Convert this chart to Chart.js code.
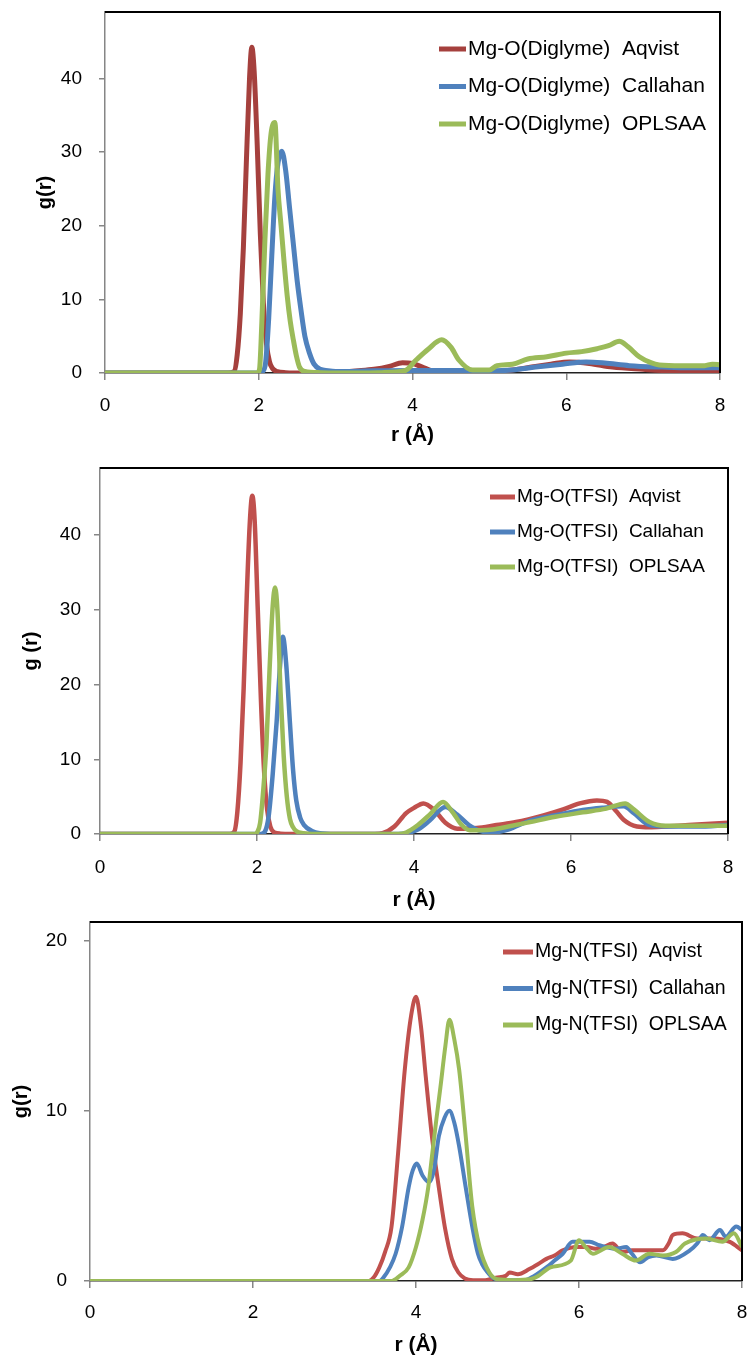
<!DOCTYPE html>
<html>
<head>
<meta charset="utf-8">
<title>g(r) Mg</title>
<script src="https://cdn.jsdelivr.net/npm/chart.js@4.4.1/dist/chart.umd.min.js"></script>
<style>
  body { margin: 0; background: #fff; }
  .painel { position: absolute; left: 0; width: 749px; }
</style>
</head>
<body>
<div class="painel" style="top:0;height:455px"><canvas id="graficoDiglyme"></canvas></div>
<div class="painel" style="top:455px;height:460px"><canvas id="graficoTfsiO"></canvas></div>
<div class="painel" style="top:915px;height:443px"><canvas id="graficoTfsiN"></canvas></div>
<script>
// painel 1: Mg-O(Diglyme)
const rDiglymeAqvist = [0, 1.6, 1.68, 1.72, 1.76, 1.8, 1.84, 1.88, 1.91, 1.94, 1.98, 2.02, 2.06, 2.1, 2.14, 2.18, 2.24, 2.35, 2.6, 3.0, 3.3, 3.5, 3.7, 3.87, 4.0, 4.15, 4.3, 4.6, 5.0, 5.3, 5.6, 5.8, 6.04, 6.3, 6.6, 7.0, 7.5, 8.0];
const gDiglymeAqvist = [0, 0, 0.2, 2.5, 8, 17, 29, 40, 44.2, 41, 31, 19, 9.5, 4, 1.5, 0.6, 0.2, 0.05, 0, 0.1, 0.3, 0.5, 0.9, 1.4, 1.3, 0.7, 0.15, 0.05, 0.1, 0.4, 0.9, 1.2, 1.5, 1.3, 0.8, 0.5, 0.2, 0.1];
const rDiglymeCallahan = [0, 2.0, 2.05, 2.09, 2.13, 2.17, 2.21, 2.25, 2.3, 2.35, 2.4, 2.45, 2.5, 2.55, 2.6, 2.66, 2.72, 2.8, 2.9, 3.0, 3.5, 4.0, 4.5, 5.0, 5.3, 5.6, 5.95, 6.26, 6.5, 6.82, 7.25, 7.6, 8.0];
const gDiglymeCallahan = [0, 0, 0.2, 1.5, 7.5, 16, 24, 28.5, 30.1, 27.5, 22.5, 17.5, 12.5, 8.5, 5, 2.7, 1.2, 0.5, 0.3, 0.2, 0.3, 0.35, 0.35, 0.3, 0.4, 0.8, 1.2, 1.5, 1.35, 1.0, 0.8, 0.7, 0.7];
const rDiglymeOplsaa = [0, 1.98, 2.01, 2.04, 2.08, 2.12, 2.16, 2.21, 2.25, 2.29, 2.33, 2.37, 2.41, 2.45, 2.49, 2.53, 2.6, 2.8, 3.2, 3.6, 3.9, 4.05, 4.2, 4.38, 4.5, 4.6, 4.78, 5.0, 5.1, 5.3, 5.5, 5.75, 6.0, 6.2, 6.4, 6.55, 6.69, 6.8, 6.95, 7.1, 7.21, 7.5, 7.8, 7.9, 8.0];
const gDiglymeOplsaa = [0, 0, 0.5, 6.8, 18, 27, 32.5, 34.0, 25, 20, 15, 10.5, 7, 4.5, 2.3, 0.8, 0.2, 0.05, 0, 0.05, 0.3, 1.8, 3.2, 4.5, 3.5, 1.8, 0.4, 0.4, 1.0, 1.2, 1.9, 2.2, 2.7, 2.9, 3.3, 3.7, 4.3, 3.6, 2.2, 1.4, 1.1, 1.0, 1.0, 1.2, 1.1];

// painel 2: Mg-O(TFSI)
const rTfsiOAqvist = [0, 1.65, 1.71, 1.75, 1.79, 1.83, 1.87, 1.91, 1.94, 1.97, 2.01, 2.05, 2.09, 2.13, 2.17, 2.22, 2.3, 2.6, 3.0, 3.5, 3.6, 3.75, 3.9, 4.0, 4.12, 4.25, 4.4, 4.55, 4.8, 5.05, 5.3, 5.65, 5.9, 6.11, 6.33, 6.46, 6.58, 6.67, 6.84, 7.0, 7.2, 7.5, 8.0];
const gTfsiOAqvist = [0, 0, 0.3, 3, 9.5, 19.5, 32, 42, 45.3, 42, 30, 18, 8.5, 3.2, 1, 0.2, 0.05, 0, 0, 0, 0.1, 1.0, 2.8, 3.5, 4.1, 3.3, 1.5, 0.7, 0.8, 1.2, 1.6, 2.5, 3.3, 4.1, 4.5, 4.3, 3.0, 1.9, 1.0, 0.9, 1.0, 1.2, 1.5];
const rTfsiOCallahan = [0, 2.05, 2.1, 2.15, 2.2, 2.25, 2.29, 2.33, 2.37, 2.42, 2.46, 2.5, 2.55, 2.6, 2.7, 2.8, 3.0, 3.8, 3.9, 4.05, 4.2, 4.4, 4.55, 4.7, 4.88, 5.0, 5.2, 5.48, 5.8, 6.15, 6.4, 6.67, 6.8, 7.0, 7.3, 7.6, 8.0];
const gTfsiOCallahan = [0, 0, 0.3, 2.5, 8, 15, 22, 26.4, 23, 14.8, 8.5, 4.5, 2.2, 1.2, 0.4, 0.1, 0, 0, 0.1, 0.6, 1.8, 3.6, 2.6, 1.2, 0.3, 0.2, 0.6, 1.8, 2.5, 3.2, 3.5, 3.7, 2.8, 1.2, 1.0, 1.0, 1.2];
const rTfsiOOplsaa = [0, 1.97, 2.0, 2.04, 2.08, 2.12, 2.16, 2.2, 2.23, 2.26, 2.3, 2.34, 2.38, 2.42, 2.46, 2.5, 2.59, 2.7, 3.0, 3.8, 3.9, 4.05, 4.2, 4.37, 4.5, 4.6, 4.71, 4.85, 5.0, 5.2, 5.48, 5.8, 6.15, 6.45, 6.69, 6.8, 7.0, 7.2, 7.5, 8.0];
const gTfsiOOplsaa = [0, 0, 0.2, 1.5, 5.9, 12, 22, 30.5, 33.0, 30, 19, 10.5, 5, 2, 0.9, 0.4, 0.1, 0, 0, 0, 0.2, 1.2, 2.6, 4.3, 2.8, 1.3, 0.5, 0.5, 0.6, 1.0, 1.6, 2.3, 2.9, 3.4, 4.1, 3.3, 1.6, 1.1, 1.1, 1.1];

// painel 3: Mg-N(TFSI)
const rTfsiNAqvist = [0, 3.42, 3.48, 3.55, 3.62, 3.7, 3.78, 3.86, 3.94, 4.0, 4.06, 4.12, 4.2, 4.28, 4.36, 4.44, 4.52, 4.6, 4.7, 4.85, 4.98, 5.1, 5.15, 5.25, 5.39, 5.5, 5.6, 5.7, 5.8, 5.97, 6.1, 6.2, 6.3, 6.41, 6.53, 6.65, 6.83, 7.03, 7.1, 7.15, 7.27, 7.45, 7.66, 7.85, 8.0];
const gTfsiNAqvist = [0, 0, 0.2, 0.8, 1.7, 3.2, 7.5, 12.3, 15.6, 16.7, 15.0, 12.0, 8.3, 5.5, 3.0, 1.3, 0.5, 0.15, 0.05, 0.05, 0.2, 0.3, 0.5, 0.4, 0.7, 1.0, 1.3, 1.5, 1.8, 2.0, 2.0, 1.9, 2.0, 2.2, 1.7, 1.8, 1.8, 1.8, 2.2, 2.7, 2.8, 2.5, 2.5, 2.3, 1.8];
const rTfsiNCallahan = [0, 3.55, 3.6, 3.68, 3.75, 3.83, 3.91, 3.96, 4.01, 4.08, 4.16, 4.22, 4.28, 4.35, 4.41, 4.47, 4.53, 4.61, 4.69, 4.76, 4.81, 4.88, 4.94, 5.05, 5.33, 5.45, 5.6, 5.7, 5.8, 5.92, 6.0, 6.13, 6.25, 6.33, 6.45, 6.58, 6.65, 6.75, 6.85, 6.95, 7.15, 7.36, 7.45, 7.52, 7.6, 7.73, 7.8, 7.93, 8.0];
const gTfsiNCallahan = [0, 0, 0.2, 0.8, 1.6, 3.2, 5.5, 6.5, 6.9, 6.2, 5.8, 6.5, 8.5, 9.6, 10.0, 9.3, 7.9, 5.5, 3.2, 1.6, 1.0, 0.5, 0.2, 0.05, 0.05, 0.3, 0.8, 1.2, 1.6, 2.3, 2.3, 2.3, 2.1, 2.0, 1.9, 2.0, 1.6, 1.1, 1.4, 1.5, 1.3, 1.8, 2.2, 2.7, 2.4, 3.0, 2.6, 3.2, 3.0];
const rTfsiNOplsaa = [0, 3.7, 3.8, 3.91, 4.0, 4.08, 4.15, 4.2, 4.25, 4.3, 4.36, 4.41, 4.47, 4.53, 4.61, 4.69, 4.78, 4.9, 5.0, 5.2, 5.4, 5.5, 5.65, 5.9, 6.0, 6.08, 6.17, 6.37, 6.53, 6.7, 6.86, 7.03, 7.19, 7.3, 7.56, 7.76, 7.9, 8.0];
const gTfsiNOplsaa = [0, 0, 0.3, 0.8, 2.0, 3.6, 5.5, 7.5, 9.5, 11.4, 13.8, 15.35, 14.2, 12.4, 8.5, 4.4, 2.0, 0.5, 0.1, 0.05, 0.1, 0.3, 0.8, 1.2, 2.4, 2.0, 1.6, 2.0, 1.6, 1.2, 1.6, 1.5, 1.7, 2.2, 2.5, 2.3, 2.8, 2.0];

const legendaDiglyme = ["Mg-O(Diglyme)  Aqvist", "Mg-O(Diglyme)  Callahan", "Mg-O(Diglyme)  OPLSAA"];
const legendaTfsiO = ["Mg-O(TFSI)  Aqvist", "Mg-O(TFSI)  Callahan", "Mg-O(TFSI)  OPLSAA"];
const legendaTfsiN = ["Mg-N(TFSI)  Aqvist", "Mg-N(TFSI)  Callahan", "Mg-N(TFSI)  OPLSAA"];

const ticksR = [0, 2, 4, 6, 8];

const FONTE = '"Liberation Sans", Arial, sans-serif';

// moldura preta em cima e a direita
const moldura = {
  id: "moldura",
  afterDatasetsDraw(chart) {
    const { ctx, chartArea } = chart;
    ctx.save();
    ctx.strokeStyle = "#000";
    ctx.lineWidth = 2;
    ctx.beginPath();
    ctx.moveTo(chartArea.left, chartArea.top);
    ctx.lineTo(chartArea.right, chartArea.top);
    ctx.lineTo(chartArea.right, chartArea.bottom);
    ctx.stroke();
    ctx.restore();
  }
};

// legenda dentro da area do grafico
const legendaInterna = {
  id: "legendaInterna",
  afterDraw(chart, args, opts) {
    const ctx = chart.ctx;
    ctx.save();
    ctx.font = `${opts.tamanho}px ${FONTE}`;
    ctx.textBaseline = "middle";
    ctx.fillStyle = "#000";
    chart.data.datasets.forEach((ds, i) => {
      const y = opts.y + i * opts.passo;
      ctx.strokeStyle = ds.borderColor;
      ctx.lineWidth = 5;
      ctx.beginPath();
      ctx.moveTo(opts.x1, y);
      ctx.lineTo(opts.x2, y);
      ctx.stroke();
      ctx.fillText(ds.label, opts.x2 + 2, y);
    });
    ctx.restore();
  }
};

function zerarPadding(scale) {
  scale.paddingTop = 0;
  scale.paddingBottom = 0;
  scale.paddingLeft = 0;
  scale.paddingRight = 0;
}

function criarGrafico(id, series, legenda, cores, cfg) {
  return new Chart(document.getElementById(id), {
    type: "line",
    data: {
      datasets: series.map((s, i) => ({
        label: legenda[i],
        data: s.r.map((r, k) => ({ x: r, y: s.g[k] })),
        borderColor: cores[i],
        borderWidth: cfg.espessura,
        pointRadius: 0,
        fill: false,
        cubicInterpolationMode: "monotone",
        order: series.length - i
      }))
    },
    options: {
      responsive: true,
      maintainAspectRatio: false,
      animation: false,
      layout: { padding: { top: cfg.topo, right: 749 - cfg.direita, left: 0, bottom: 0 } },
      plugins: {
        legend: { display: false },
        tooltip: { enabled: false },
        legendaInterna: cfg.legenda
      },
      scales: {
        x: {
          type: "linear",
          min: 0,
          max: 8,
          afterBuildTicks: scale => { scale.ticks = ticksR.map(v => ({ value: v })); },
          afterFit: scale => { scale.height = cfg.altura - cfg.base; zerarPadding(scale); },
          grid: { drawOnChartArea: false, color: "#868686", tickLength: 7, lineWidth: 1.5 },
          border: { color: "#222", width: 1.5 },
          ticks: { color: "#000", font: { family: FONTE, size: 19 }, padding: cfg.padX },
          title: { display: true, text: "r (Å)", color: "#000", font: { family: FONTE, size: 21, weight: "bold" }, padding: { top: 0, bottom: cfg.tituloX } }
        },
        y: {
          min: 0,
          max: cfg.maxY,
          afterFit: scale => { scale.width = cfg.esquerda; zerarPadding(scale); },
          grid: { drawOnChartArea: false, color: "#868686", tickLength: 6, lineWidth: 1.5 },
          border: { color: "#868686", width: 1.5 },
          ticks: { stepSize: 10, includeBounds: false, color: "#000", font: { family: FONTE, size: 19 }, padding: cfg.padY },
          title: { display: true, text: cfg.tituloY, color: "#000", font: { family: FONTE, size: 20, weight: "bold" }, padding: { top: cfg.tituloYPos, bottom: 0 } }
        }
      }
    },
    plugins: [moldura, legendaInterna]
  });
}

criarGrafico("graficoDiglyme",
  [{ r: rDiglymeAqvist, g: gDiglymeAqvist }, { r: rDiglymeCallahan, g: gDiglymeCallahan }, { r: rDiglymeOplsaa, g: gDiglymeOplsaa }],
  legendaDiglyme,
  ["#A5403D", "#4F81BD", "#9BBB59"],
  { altura: 455, topo: 12, base: 373, esquerda: 105, direita: 720, maxY: 49, espessura: 5,
    padX: 14, padY: 17, tituloX: 7, tituloY: "g(r)", tituloYPos: 33,
    legenda: { x1: 439, x2: 466, y: 49, passo: 37.5, tamanho: 21 } });

criarGrafico("graficoTfsiO",
  [{ r: rTfsiOAqvist, g: gTfsiOAqvist }, { r: rTfsiOCallahan, g: gTfsiOCallahan }, { r: rTfsiOOplsaa, g: gTfsiOOplsaa }],
  legendaTfsiO,
  ["#C0504D", "#4F81BD", "#9BBB59"],
  { altura: 460, topo: 13, base: 379, esquerda: 100, direita: 728, maxY: 49, espessura: 4.5,
    padX: 15, padY: 13, tituloX: 2, tituloY: "g (r)", tituloYPos: 19,
    legenda: { x1: 490, x2: 515, y: 42, passo: 35, tamanho: 19 } });

criarGrafico("graficoTfsiN",
  [{ r: rTfsiNAqvist, g: gTfsiNAqvist }, { r: rTfsiNCallahan, g: gTfsiNCallahan }, { r: rTfsiNOplsaa, g: gTfsiNOplsaa }],
  legendaTfsiN,
  ["#C0504D", "#4F81BD", "#9BBB59"],
  { altura: 443, topo: 7, base: 366, esquerda: 90, direita: 742, maxY: 21.1, espessura: 4,
    padX: 13, padY: 17, tituloX: 0, tituloY: "g(r)", tituloYPos: 9,
    legenda: { x1: 503, x2: 533, y: 37, passo: 36.5, tamanho: 19.5 } });
</script>
</body>
</html>
